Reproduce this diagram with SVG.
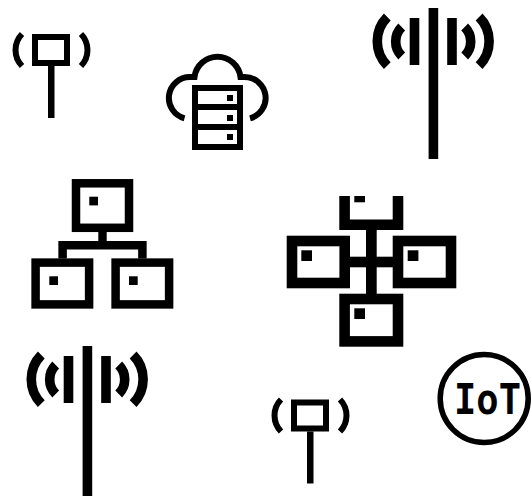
<svg xmlns="http://www.w3.org/2000/svg" width="531" height="496" viewBox="0 0 531 496">
<style>
.k{fill:#000}
.s{fill:none;stroke:#000}
.t1{stroke-width:6}
.n{stroke-width:8.5}
.m{stroke-width:10.6}
.a{stroke-width:9.6}
</style>
<defs>
<g id="small">
<rect class="s t1" x="35" y="37" width="32" height="26"/>
<rect class="k" x="48" y="66" width="6.5" height="52"/>
<path class="s t1" d="M22 34A23 23 0 0 0 22 66M81 34A23 23 0 0 1 81 66"/>
</g>
<g id="big">
<rect class="k" x="78.6" y="8" width="9.6" height="151"/>
<rect class="k" x="59.7" y="18" width="9.6" height="47"/>
<rect class="k" x="97.2" y="18" width="9.6" height="47"/>
<path class="s a" d="M37.3 17A34.600 34.600 0 0 0 37.3 65.7M51.7 27A20.500 20.500 0 0 0 51.7 56M129.1 17A34.600 34.600 0 0 1 129.1 65.7M114.7 27A20.500 20.500 0 0 1 114.7 56"/>
</g>
</defs>
<rect width="531" height="496" fill="#fff"/>
<g id="tower-top-left"><use href="#small"/></g>
<g id="cloud-server">
<path class="s" stroke-width="6" d="M184.500 118.300A21 21 0 0 1 190 77L194.500 77A23.200 23.200 0 0 1 240.500 77L244.500 77A21 21 0 0 1 250 118.300"/>
<rect class="s t1" x="195" y="88" width="45" height="59"/>
<rect class="k" x="192" y="104" width="51" height="6"/>
<rect class="k" x="192" y="124" width="51" height="6"/>
<rect class="k" x="227" y="95" width="6" height="6"/>
<rect class="k" x="227" y="115" width="6" height="6"/>
<rect class="k" x="227" y="134" width="6" height="6"/>
</g>
<g id="tower-top-right"><use href="#big" x="350"/></g>
<g id="network-tree">
<rect class="s n" x="76" y="183.300" width="53" height="44.500"/>
<rect class="k" x="89.300" y="196.700" width="8.700" height="8.700"/>
<rect class="k" x="98.300" y="232" width="8.400" height="10"/>
<path class="s n" d="M62.600 258.500V245.300H142.400V258.500"/>
<rect class="s n" x="35.600" y="262.600" width="53.500" height="41.800"/>
<rect class="k" x="49.300" y="276.300" width="8.700" height="8.700"/>
<rect class="s n" x="115.600" y="262.600" width="53.500" height="41.800"/>
<rect class="k" x="129" y="276.300" width="8.700" height="8.700"/>
</g>
<g id="network-cross">
<path class="s m" d="M344.600 196V224.700H398V196"/>
<rect class="k" x="354.300" y="196" width="10.700" height="6.300"/>
<rect class="s m" x="292" y="241" width="52.700" height="42"/>
<rect class="k" x="301.300" y="250.300" width="10.700" height="10.700"/>
<rect class="s m" x="398" y="241" width="53" height="42"/>
<rect class="k" x="407.700" y="250.300" width="10.700" height="10.700"/>
<rect class="s m" x="344.600" y="299" width="53.400" height="42.400"/>
<rect class="k" x="354.300" y="308.300" width="10.700" height="10.700"/>
<rect class="k" x="366" y="230" width="10.700" height="64"/>
<rect class="k" x="350" y="256.700" width="43" height="10.600"/>
</g>
<g id="tower-bottom-left"><use href="#big" x="4" y="338"/></g>
<g id="tower-bottom-center"><use href="#small" x="259" y="365.500"/></g>
<g id="iot">
<circle class="s" stroke-width="5.500" cx="484.200" cy="398.500" r="44"/>
<text x="454" y="413.500" font-family="'DejaVu Sans Mono',monospace" font-weight="700" font-size="43" textLength="67" lengthAdjust="spacingAndGlyphs">IoT</text>
</g>
</svg>
